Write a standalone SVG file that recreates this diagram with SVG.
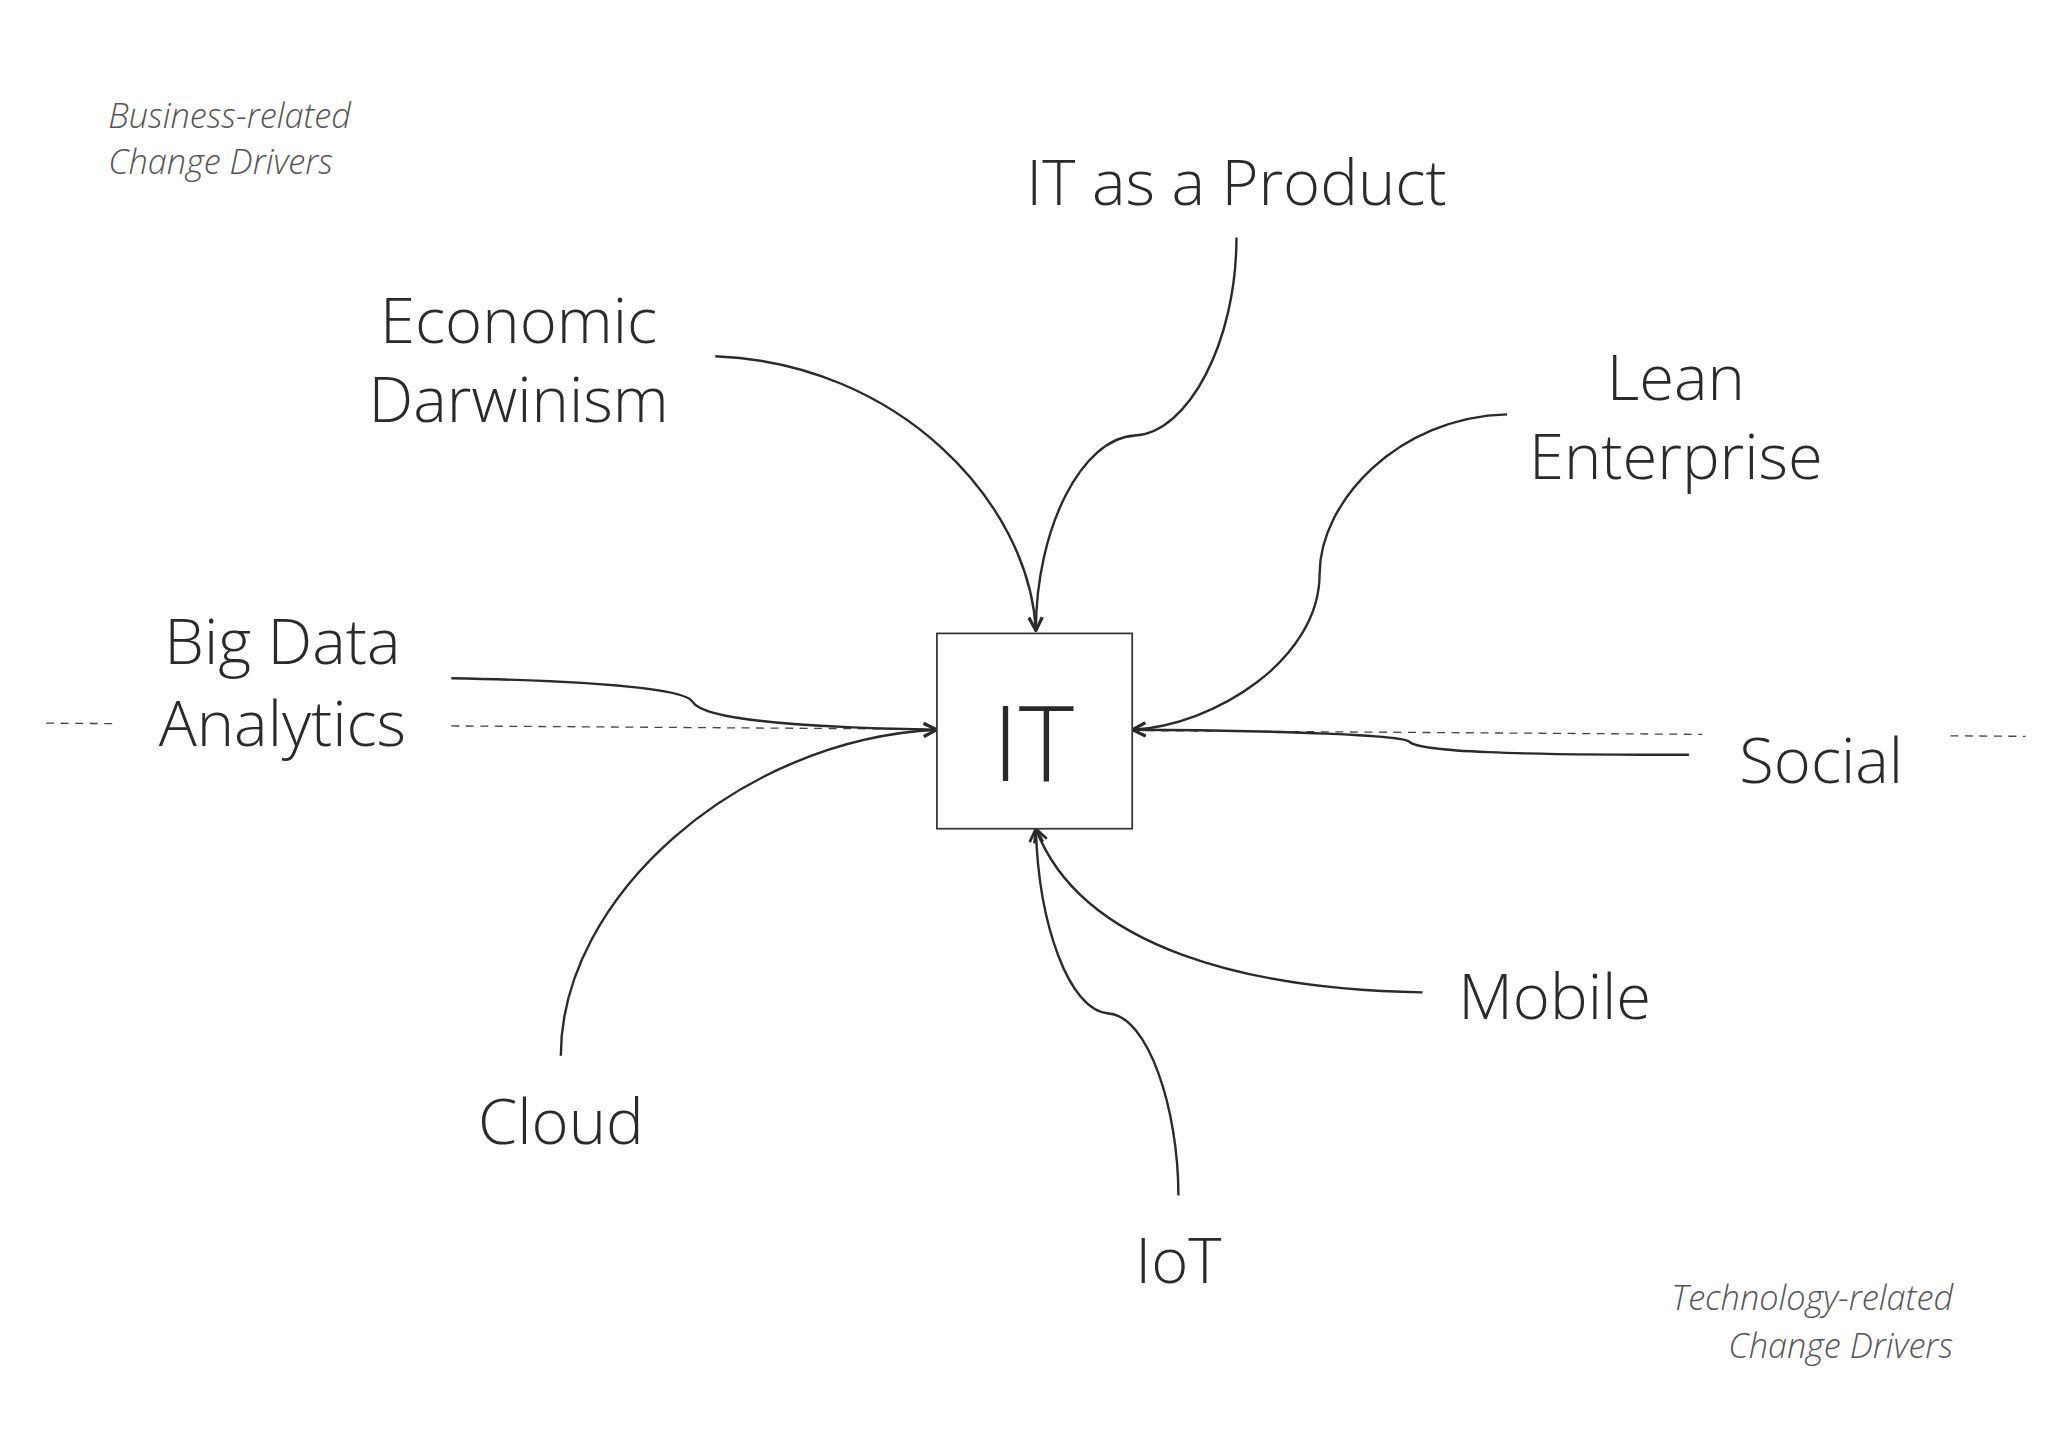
<svg xmlns="http://www.w3.org/2000/svg" width="2048" height="1447" viewBox="0 0 2048 1447">
<style>
.t{font-family:"Open Sans","Liberation Sans",sans-serif;font-weight:300;fill:#2a2a2a;font-size:48px}
.c{text-anchor:middle}
.i{font-family:"Open Sans","Liberation Sans",sans-serif;font-style:italic;font-weight:300;fill:#555;font-size:26px}
.e{fill:none;stroke:#2a2a2a;stroke-width:1.8;marker-end:url(#a)}
.d{stroke:#444;stroke-width:1;stroke-dasharray:6,5}
</style>
<defs><marker id="a" viewBox="0 0 12 12" refX="11" refY="6" markerWidth="12" markerHeight="12" markerUnits="userSpaceOnUse" orient="auto"><path d="M1,1 L11,6 L1,11" fill="none" stroke="#2a2a2a" stroke-width="2"/></marker></defs>
<rect width="2048" height="1447" fill="#fff"/>
<g transform="scale(1.3196)">
<line class="d" x1="35" y1="548" x2="88" y2="548.4"/>
<line class="d" x1="342" y1="550.1" x2="710" y2="552.6"/>
<line class="d" x1="858" y1="553.6" x2="1290" y2="556.5"/>
<line class="d" x1="1478" y1="557.6" x2="1535" y2="558"/>
<g id="connectors">
<path class="e" d="M937,180 C937,260 900,328 860,330 C820,332 785,400 785,478"/>
<path class="e" d="M542,270 C680,275 780,380 785,478"/>
<path class="e" d="M1142,314 C1060,316 1000,380 1000,435 C1000,500 920,550 858,553"/>
<path class="e" d="M342,514 C450,516 520,522 525,532 C535,548 640,552 710,553"/>
<path class="e" d="M1280,572 C1150,572 1075,570 1068,562 C1060,555 900,553 858,553"/>
<path class="e" d="M425,800 C425,680 560,560 710,553"/>
<path class="e" d="M1078,752 C950,750 820,720 785,628"/>
<path class="e" d="M893,906 C893,840 870,770 840,768 C810,766 787,700 785,628"/>
</g>
<g id="it"><rect x="710" y="480" width="148" height="148" fill="#fff" stroke="#333" stroke-width="1.3"/><text class="t c" x="783" y="592" style="font-size:80px">IT</text></g>
<g id="product"><text class="t c" x="937" y="155">IT as a Product</text></g>
<g id="economic"><text class="t c" x="393" y="260">Economic</text><text class="t c" x="393" y="320">Darwinism</text></g>
<g id="lean"><text class="t c" x="1270" y="303">Lean</text><text class="t c" x="1270" y="363">Enterprise</text></g>
<g id="bigdata"><text class="t c" x="214" y="503">Big Data</text><text class="t c" x="214" y="565">Analytics</text></g>
<g id="social"><text class="t" x="1318" y="593">Social</text></g>
<g id="mobile"><text class="t" x="1105" y="772">Mobile</text></g>
<g id="cloud"><text class="t c" x="425" y="867">Cloud</text></g>
<g id="iot"><text class="t c" x="893" y="972">IoT</text></g>
<g id="notes"><text class="i" x="82" y="97">Business-related</text><text class="i" x="82" y="132">Change Drivers</text>
<text class="i" x="1480" y="993" text-anchor="end">Technology-related</text><text class="i" x="1480" y="1029" text-anchor="end">Change Drivers</text></g>
</g>
</svg>
